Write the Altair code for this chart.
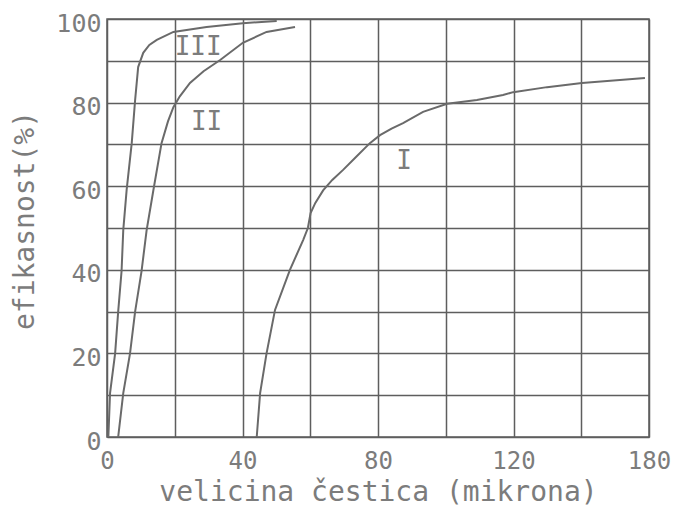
import altair as alt
import pandas as pd

# --- data ---
curve1_x = [44.2, 45.2, 47.1, 49.6, 54.0, 57.9, 59.3, 60.1, 61.5, 63.8, 66.5, 69.7, 73.5, 77.6, 80.6, 84.0, 87.4, 93.3, 100.4, 109.2, 116.9, 119.9, 129.9, 140.2, 151.4, 158.8]
curve1_y = [0, 10.5, 20, 30.4, 40, 47.1, 50.0, 53.6, 56.0, 59.0, 61.5, 63.9, 67.0, 70.3, 72.2, 73.8, 75.1, 77.8, 79.7, 80.6, 81.8, 82.5, 83.7, 84.7, 85.4, 85.9]

curve2_x = [3.3, 4.8, 6.8, 8.3, 10.2, 11.7, 13.7, 16.1, 18.0, 19.6, 21.5, 24.5, 28.5, 33.4, 40.1, 47.1, 55.5]
curve2_y = [0, 10.5, 20, 30, 39.7, 49.5, 59.1, 70.3, 75.5, 78.9, 81.5, 84.7, 87.5, 90.2, 94.3, 96.9, 98.1]

curve3_x = [0.4, 0.9, 2.4, 3.3, 4.3, 4.8, 5.8, 7.3, 8.3, 9.2, 10.7, 12.5, 14.7, 19.6, 29.4, 40.1, 50.1]
curve3_y = [0, 10.5, 20, 30, 39.7, 49.5, 59.1, 70.3, 80.6, 88.5, 91.9, 93.8, 95, 96.9, 98.1, 99, 99.5]

curve_names = ["I", "II", "III"]
label_x = [87.7, 29.4, 26.9]
label_y = [66.0, 75.4, 93.3]

x_grid_values = [0, 20, 40, 60, 80, 100, 120, 140, 160]
x_tick_values = [0, 40, 80, 120, 160]
x_tick_labels = ["0", "40", "80", "120", "180"]
y_grid_values = [0, 10, 20, 30, 40, 50, 60, 70, 80, 90, 100]
y_tick_values = [0, 20, 40, 60, 80, 100]

x_title = "velicina čestica (mikrona)"
y_title = "efikasnost(%)"

# --- build tables ---
rows = []
for name, xs, ys in zip(curve_names, [curve1_x, curve2_x, curve3_x], [curve1_y, curve2_y, curve3_y]):
    for i, (a, b) in enumerate(zip(xs, ys)):
        rows.append({"krivulja": name, "x": a, "y": b, "i": i})
df = pd.DataFrame(rows)
labels = pd.DataFrame({"krivulja": curve_names, "x": label_x, "y": label_y})

FONT = "DejaVu Sans Mono"
TEXT_COLOR = "#7c7c7c"
GRID_COLOR = "#5e5e5e"

x_map = "{" + ",".join(f"'{v}':'{l}'" for v, l in zip(x_tick_values, x_tick_labels)) + "}"
x_label_expr = f"({x_map})[''+datum.value] || ''"
y_label_expr = "indexof([" + ",".join(str(v) for v in y_tick_values) + "], datum.value) >= 0 ? datum.label : ''"

x_enc = alt.X(
    "x:Q",
    scale=alt.Scale(domain=[0, 160], nice=False, zero=False),
    axis=alt.Axis(
        values=x_grid_values,
        labelExpr=x_label_expr,
        title=x_title,
        grid=True,
        gridColor=GRID_COLOR,
        gridWidth=1.5,
        gridOpacity=1,
        domain=False,
        ticks=False,
        labelFlush=False,
        labelFont=FONT,
        labelFontSize=24,
        labelColor=TEXT_COLOR,
        labelPadding=12,
        titleFont=FONT,
        titleFontSize=28,
        titleFontWeight="normal",
        titleColor=TEXT_COLOR,
        titleY=55,
        titleBaseline="middle",
        titleX=271,
        titleAlign="center",
    ),
)
y_enc = alt.Y(
    "y:Q",
    scale=alt.Scale(domain=[0, 100], nice=False),
    axis=alt.Axis(
        values=y_grid_values,
        labelExpr=y_label_expr,
        title=y_title,
        grid=True,
        gridColor=GRID_COLOR,
        gridWidth=1.5,
        gridOpacity=1,
        domain=False,
        ticks=False,
        labelFont=FONT,
        labelFontSize=25,
        labelColor=TEXT_COLOR,
        labelPadding=6,
        labelOffset=4,
        titleFont=FONT,
        titleFontSize=28,
        titleFontWeight="normal",
        titleColor=TEXT_COLOR,
        titleX=-82,
        titleY=201,
        titleAngle=270,
        titleAlign="center",
        titleBaseline="middle",
    ),
)

lines = alt.Chart(df).mark_line(color="#6a6a6a", strokeWidth=2).encode(
    x=x_enc,
    y=y_enc,
    detail="krivulja:N",
    order="i:Q",
)

text = alt.Chart(labels).mark_text(
    font=FONT, fontSize=26, color=TEXT_COLOR, align="center", baseline="middle"
).encode(
    x="x:Q",
    y="y:Q",
    text="krivulja:N",
)

chart = (
    alt.layer(lines, text)
    .properties(
        width=542,
        height=418,
        autosize=alt.AutoSizeParams(type="none"),
        padding={"left": 99, "top": 11, "right": 22, "bottom": 71},
        background="white",
    )
    .configure_view(stroke=GRID_COLOR, strokeWidth=1.5)
)

chart.save("out.html", embed_options={"renderer": "svg", "actions": False})
